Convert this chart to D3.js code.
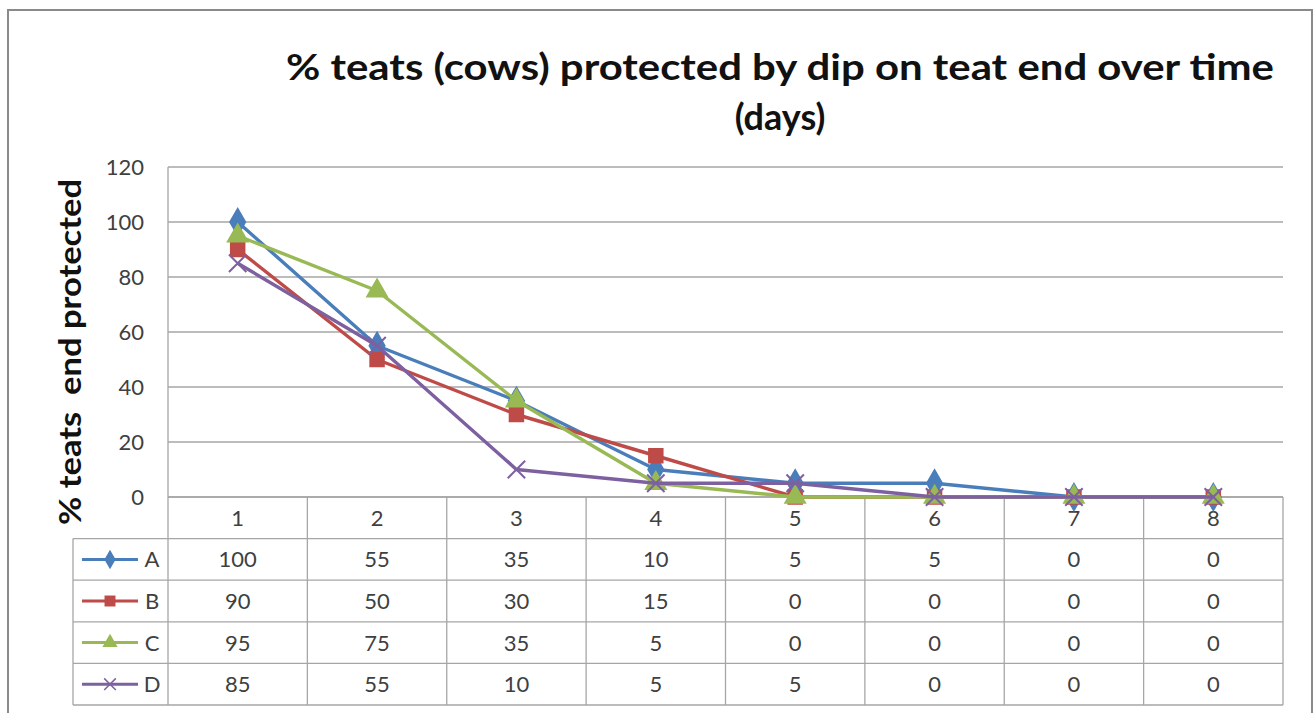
<!DOCTYPE html>
<html><head><meta charset="utf-8">
<script src="https://cdn.jsdelivr.net/npm/d3@7"></script>
<style>
html,body{margin:0;padding:0;background:#fff;}
svg{display:block;}
</style></head>
<body>
<svg id="chart" width="1315" height="713"></svg>
<script>
const days = ["1","2","3","4","5","6","7","8"];
const seriesNames = ["A","B","C","D"];
const valuesA = [100,55,35,10,5,5,0,0];
const valuesB = [90,50,30,15,0,0,0,0];
const valuesC = [95,75,35,5,0,0,0,0];
const valuesD = [85,55,10,5,5,0,0,0];
const yTicks = [0,20,40,60,80,100,120];
const colors = ["#4A7EBB","#BE4B48","#98B954","#7D60A0"];
const symbols = ["diamond","square","triangle","x"];
const titleLines = ["% teats (cows) protected by dip on teat end over time","(days)"];
const yTitle = "% teats\u00a0 end protected";

const allValues = [valuesA,valuesB,valuesC,valuesD];
const svg = d3.select("#chart");
const font = "Lato, 'Open Sans', sans-serif";

// outer border
svg.append("rect").attr("x",8).attr("y",10).attr("width",1304).attr("height",720)
  .attr("fill","#fff").attr("stroke","#8a8a8a").attr("stroke-width",2);

const L=168, R=1283, T=167, B=497;
const x = d3.scaleBand().domain(days).range([L,R]);
const y = d3.scaleLinear().domain([0,120]).range([B,T]);

// gridlines
svg.append("g").selectAll("line").data(yTicks).join("line")
  .attr("x1",L).attr("x2",R).attr("y1",d=>y(d)).attr("y2",d=>y(d))
  .attr("stroke","#a6a6a6").attr("stroke-width",1.3);
svg.append("line").attr("x1",L).attr("x2",L).attr("y1",T).attr("y2",B).attr("stroke","#a6a6a6").attr("stroke-width",1.3);

// y axis
const yAxis = d3.axisLeft(y).tickValues(yTicks).tickSize(0).tickPadding(0);
const gy = svg.append("g").attr("transform",`translate(${L-24},0)`).call(yAxis);
gy.select(".domain").remove();
gy.selectAll("text").attr("font-family",font).attr("font-size",22).attr("fill","#404040").attr("dy","0.35em");

// y title
svg.append("text").attr("transform",`translate(81,352) rotate(-90)`)
  .attr("text-anchor","middle").attr("font-family",font).attr("font-weight","bold")
  .attr("font-size",31).attr("fill","#111")
  .attr("textLength",346).attr("lengthAdjust","spacingAndGlyphs").text(yTitle);

// title
svg.append("g").selectAll("text").data(titleLines).join("text")
  .attr("x",780).attr("y",(d,i)=>80+i*50).attr("text-anchor","middle")
  .attr("font-family",font).attr("font-weight","bold").attr("font-size",36).attr("fill","#111")
  .each(function(d,i){ if(i===0) d3.select(this).attr("textLength",988).attr("lengthAdjust","spacingAndGlyphs"); })
  .text(d=>d);

// data table
const rowH = 41.6;
const LEG = 73;
const tbl = svg.append("g");
const tableStroke = "#a6a6a6";
const rowsY = d3.range(6).map(i=>B+i*rowH);
tbl.append("line").attr("x1",L).attr("x2",R).attr("y1",rowsY[0]).attr("y2",rowsY[0]).attr("stroke",tableStroke).attr("stroke-width",1.3);
rowsY.slice(1).forEach(yy=>{
  tbl.append("line").attr("x1",LEG).attr("x2",R).attr("y1",yy).attr("y2",yy).attr("stroke",tableStroke).attr("stroke-width",1.3);
});
const colEdges = days.map(d=>x(d)).concat([R]);
colEdges.forEach(xx=>{
  tbl.append("line").attr("x1",xx).attr("x2",xx).attr("y1",B).attr("y2",rowsY[5]).attr("stroke",tableStroke).attr("stroke-width",1.3);
});
tbl.append("line").attr("x1",LEG).attr("x2",LEG).attr("y1",rowsY[1]).attr("y2",rowsY[5]).attr("stroke",tableStroke).attr("stroke-width",1.3);

tbl.selectAll("text.hdr").data(days).join("text").attr("class","hdr")
  .attr("x",d=>x(d)+x.bandwidth()/2).attr("y",B+rowH/2).attr("dy","0.36em")
  .attr("text-anchor","middle").attr("font-family",font).attr("font-size",22).attr("fill","#404040").text(d=>d);

function sym(i,size){
  return d3.symbol().type([d3.symbolDiamond,d3.symbolSquare,d3.symbolTriangle,d3.symbolX][i]).size(size)();
}

allValues.forEach((vals,si)=>{
  const cy = rowsY[si+1]+rowH/2;
  tbl.selectAll(null).data(vals).join("text")
    .attr("x",(d,i)=>x(days[i])+x.bandwidth()/2).attr("y",cy).attr("dy","0.36em")
    .attr("text-anchor","middle").attr("font-family",font).attr("font-size",22).attr("fill","#404040").text(d=>d);
  tbl.append("line").attr("x1",82).attr("x2",138).attr("y1",cy).attr("y2",cy)
    .attr("stroke",colors[si]).attr("stroke-width",3);
  const mk = tbl.append("path").attr("d",sym(si,[110,120,100,90][si])).attr("transform",`translate(110,${cy})`);
  if (symbols[si]==="x") mk.attr("fill","none").attr("stroke",colors[si]).attr("stroke-width",1.5);
  else mk.attr("fill",colors[si]);
  tbl.append("text").attr("x",152).attr("y",cy).attr("dy","0.36em").attr("text-anchor","middle")
    .attr("font-family",font).attr("font-size",22).attr("fill","#404040").text(seriesNames[si]);
});

// lines and markers
const line = d3.line().x((d,i)=>x(days[i])+x.bandwidth()/2).y(d=>y(d));
allValues.forEach((vals,si)=>{
  const g = svg.append("g");
  g.append("path").datum(vals).attr("d",line).attr("fill","none")
    .attr("stroke",colors[si]).attr("stroke-width",3.4).attr("stroke-linejoin","round");
  const sz = [260,240,230,200][si];
  g.selectAll("path.m").data(vals).join("path").attr("class","m")
    .attr("d",sym(si,sz))
    .attr("transform",(d,i)=>`translate(${x(days[i])+x.bandwidth()/2},${y(d)})`)
    .each(function(){
      const s=d3.select(this);
      if (symbols[si]==="x") s.attr("fill","none").attr("stroke",colors[si]).attr("stroke-width",2);
      else s.attr("fill",colors[si]);
    });
});
</script>
</body></html>
